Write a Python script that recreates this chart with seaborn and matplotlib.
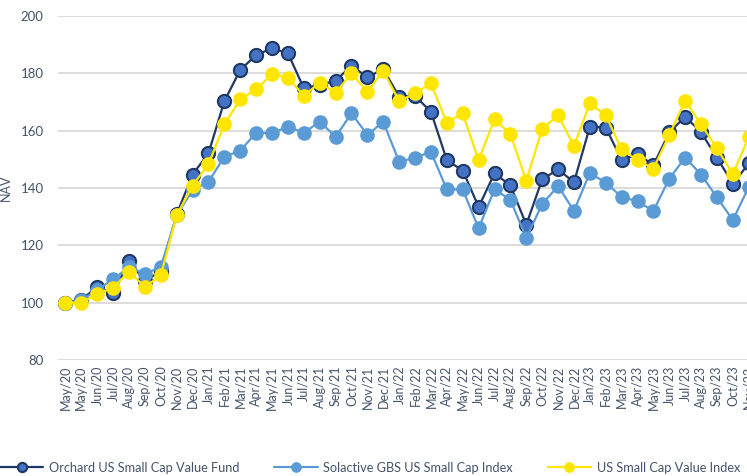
import numpy as np
import pandas as pd
import seaborn as sns
import matplotlib.pyplot as plt

months = ["May/20", "May/20", "Jun/20", "Jul/20", "Aug/20", "Sep/20", "Oct/20", "Nov/20", "Dec/20",
          "Jan/21", "Feb/21", "Mar/21", "Apr/21", "May/21", "Jun/21", "Jul/21", "Aug/21", "Sep/21",
          "Oct/21", "Nov/21", "Dec/21", "Jan/22", "Feb/22", "Mar/22", "Apr/22", "May/22", "Jun/22",
          "Jul/22", "Aug/22", "Sep/22", "Oct/22", "Nov/22", "Dec/22", "Jan/23", "Feb/23", "Mar/23",
          "Apr/23", "May/23", "Jun/23", "Jul/23", "Aug/23", "Sep/23", "Oct/23", "Nov/23"]

orchard = [100.0, 101.0, 105.5, 103.2, 114.6, 107.5, 111.0, 130.8, 144.7, 152.1, 170.3, 181.2,
           186.4, 188.7, 187.0, 174.8, 176.0, 177.4, 182.7, 178.6, 181.5, 171.8, 172.1, 166.6,
           149.7, 146.1, 133.4, 145.1, 140.9, 127.2, 143.0, 146.5, 142.0, 161.4, 161.1, 149.7,
           151.8, 148.0, 159.4, 164.9, 159.4, 150.6, 141.4, 148.6]

solactive = [100.0, 100.8, 104.5, 108.1, 112.5, 110.0, 112.5, 130.5, 139.3, 142.2, 150.9, 153.0,
             159.3, 159.1, 161.4, 159.3, 163.1, 157.9, 166.0, 158.5, 163.1, 149.1, 150.6, 152.6,
             139.5, 139.5, 125.9, 139.6, 135.8, 122.6, 134.4, 140.7, 132.0, 145.3, 141.8, 136.9,
             135.3, 132.0, 143.3, 150.6, 144.7, 136.7, 128.8, 140.4]

us_value = [100.0, 100.0, 103.0, 105.2, 110.8, 105.5, 109.5, 130.5, 140.8, 148.3, 162.2, 170.9,
            174.4, 179.8, 178.5, 172.2, 176.7, 173.2, 180.0, 173.6, 180.9, 170.3, 173.0, 176.5,
            162.8, 166.0, 149.7, 164.0, 158.8, 142.5, 160.6, 165.4, 154.7, 169.5, 165.4, 153.5,
            149.7, 146.8, 158.5, 170.4, 162.2, 153.8, 144.9, 157.7]

names = ["Orchard US Small Cap Value Fund", "Solactive GBS US Small Cap Index", "US Small Cap Value Index"]

df = pd.DataFrame({"idx": np.arange(len(months)), names[0]: orchard,
                   names[1]: solactive, names[2]: us_value})

sns.set_style("white")
plt.rcParams['font.family'] = ['Lato', 'DejaVu Sans']

fig = plt.figure(figsize=(7.47, 4.76), dpi=100)
ax = fig.add_axes([0.077, 0.2437, 0.936, 0.7227])

text_col = "#44546A"

sns.lineplot(data=df, x="idx", y=names[0], ax=ax, color="#203864", marker="o", markersize=9.5,
             markerfacecolor="#4472C4", markeredgecolor="#203864", markeredgewidth=1.5,
             linewidth=1.6, label=names[0], zorder=3)
sns.lineplot(data=df, x="idx", y=names[1], ax=ax, color="#5B9BD5", marker="o", markersize=9.5,
             markerfacecolor="#5B9BD5", markeredgecolor="#5B9BD5", markeredgewidth=1.0,
             linewidth=1.6, label=names[1], zorder=3)
sns.lineplot(data=df, x="idx", y=names[2], ax=ax, color="#FFE600", marker="o", markersize=9.5,
             markerfacecolor="#FFE600", markeredgecolor="#FFE600", markeredgewidth=1.0,
             linewidth=1.6, label=names[2], zorder=3)

ax.set_xlim(-0.5, len(months) - 0.5)
ax.set_ylim(80, 200)
ax.set_yticks(range(80, 201, 20))
ax.set_xticks(range(len(months)))
ax.set_xticklabels(months, rotation=90, fontsize=9, color=text_col)
ax.tick_params(axis="y", labelsize=9.5, labelcolor=text_col, length=0, pad=10)
ax.tick_params(axis="x", length=0, pad=4)
ax.grid(axis="y", color="#D9D9D9", linewidth=1.3)
ax.set_axisbelow(True)
for s in ax.spines.values():
    s.set_visible(False)
ax.set_xlabel("")
ax.set_ylabel("NAV", fontsize=9, color=text_col, labelpad=6)

ax.legend(loc="center left", bbox_to_anchor=(0.0, 0.017), bbox_transform=fig.transFigure,
          ncol=3, frameon=False, fontsize=9.2, handlelength=3.4, columnspacing=2.7,
          handletextpad=0.45, markerscale=0.7, borderaxespad=0, borderpad=0,
          labelcolor=text_col)

fig.savefig("out.png", dpi=100)
